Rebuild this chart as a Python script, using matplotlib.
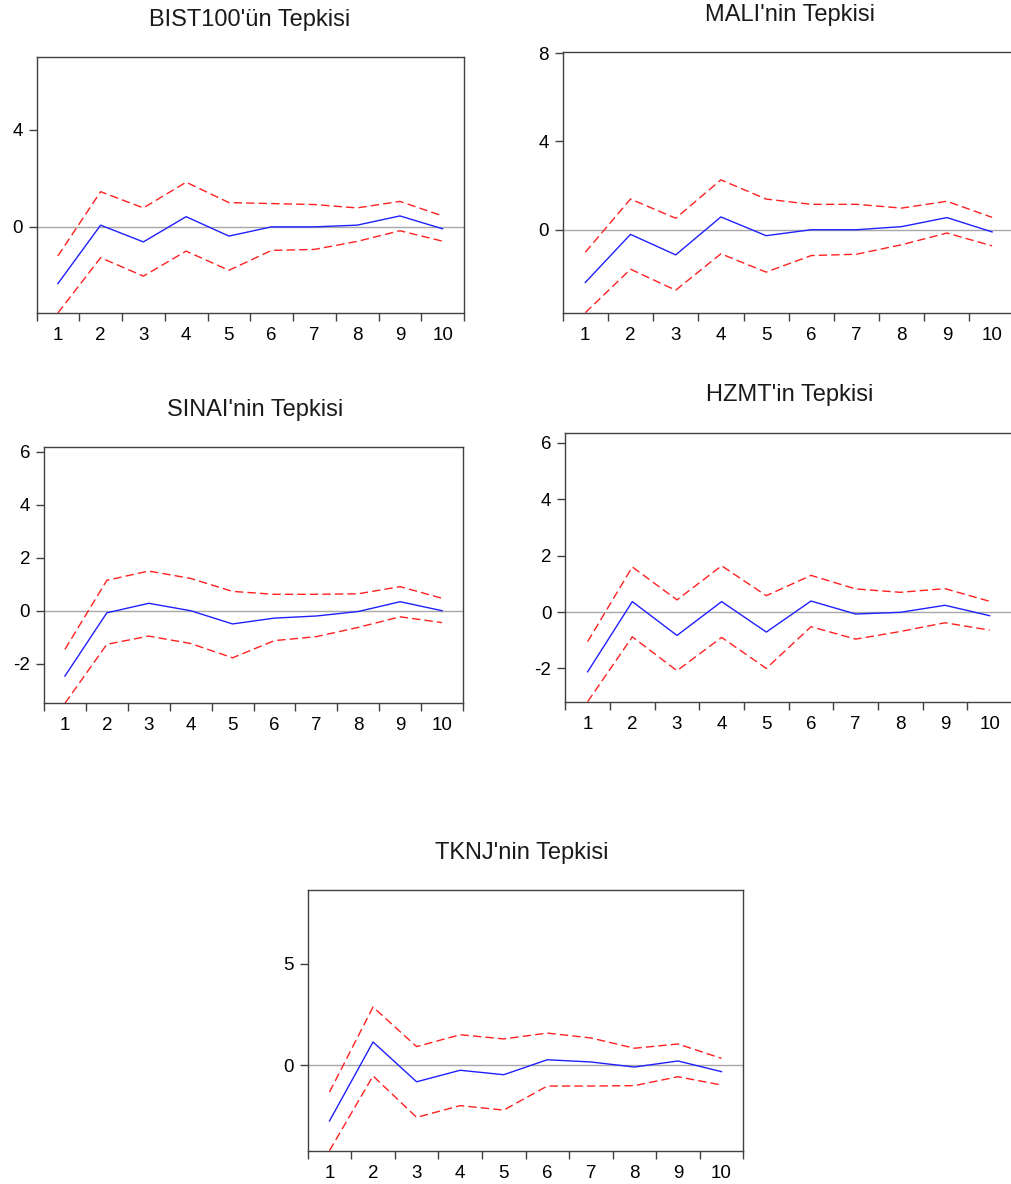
import numpy as np
import matplotlib
matplotlib.use('Agg')
import matplotlib.pyplot as plt
from matplotlib.ticker import FixedLocator, NullFormatter

plt.rcParams['font.family'] = ['Liberation Sans', 'DejaVu Sans']
plt.rcParams['axes.unicode_minus'] = False

periods = list(range(1, 11))

# impulse responses: response, upper band, lower band
bistResp = [-2.34, 0.07, -0.62, 0.42, -0.38, 0.0, 0.0, 0.07, 0.45, -0.08]
bistUpper = [-1.20, 1.45, 0.78, 1.84, 1.00, 0.96, 0.92, 0.78, 1.05, 0.45]
bistLower = [-3.55, -1.27, -2.03, -1.00, -1.79, -0.97, -0.93, -0.60, -0.16, -0.59]

maliResp = [-2.39, -0.21, -1.14, 0.58, -0.27, 0.0, 0.0, 0.14, 0.55, -0.10]
maliUpper = [-1.02, 1.39, 0.52, 2.26, 1.39, 1.15, 1.15, 0.98, 1.29, 0.56]
maliLower = [-3.76, -1.79, -2.74, -1.09, -1.92, -1.17, -1.11, -0.68, -0.15, -0.73]

sinaiResp = [-2.47, -0.08, 0.28, 0.0, -0.50, -0.28, -0.20, -0.03, 0.34, 0.0]
sinaiUpper = [-1.46, 1.15, 1.50, 1.22, 0.73, 0.62, 0.62, 0.64, 0.91, 0.47]
sinaiLower = [-3.50, -1.27, -0.96, -1.24, -1.78, -1.13, -0.98, -0.63, -0.23, -0.45]

hzmtResp = [-2.12, 0.37, -0.83, 0.37, -0.71, 0.39, -0.07, -0.01, 0.24, -0.13]
hzmtUpper = [-1.05, 1.60, 0.43, 1.64, 0.58, 1.30, 0.82, 0.70, 0.83, 0.38]
hzmtLower = [-3.18, -0.88, -2.08, -0.90, -2.00, -0.52, -0.96, -0.69, -0.38, -0.64]

tknjResp = [-2.77, 1.14, -0.83, -0.26, -0.48, 0.26, 0.15, -0.10, 0.20, -0.33]
tknjUpper = [-1.34, 2.87, 0.91, 1.50, 1.29, 1.58, 1.34, 0.83, 1.04, 0.33]
tknjLower = [-4.24, -0.54, -2.59, -2.01, -2.23, -1.04, -1.04, -1.02, -0.58, -0.99]

titles = ["BIST100'ün Tepkisi", "MALI'nin Tepkisi", "SINAI'nin Tepkisi",
          "HZMT'in Tepkisi", "TKNJ'nin Tepkisi"]
yTicks = [[0, 4], [0, 4, 8], [-2, 0, 2, 4, 6], [-2, 0, 2, 4, 6], [0, 5]]
yLimits = [(-3.55, 7.0), (-3.76, 8.04), (-3.5, 6.2), (-3.18, 6.34), (-4.24, 8.66)]

W, H = 1011, 1184

# pixel boxes: left, top, right, bottom ; title centre x, y
boxes = [(36.5, 57, 464, 313), (562.7, 52.3, 1014.7, 312.7),
         (44, 446.7, 463, 703.3), (565.3, 433.3, 1012, 701.7),
         (307.7, 890, 743.3, 1150.7)]
titlePos = [(250, 20), (790, 15), (255, 410), (790, 395), (522, 853)]

spineColor = '#404040'

def makeAxes(fig, box):
    l, t, r, b = box
    return fig.add_axes([l / W, 1 - b / H, (r - l) / W, (b - t) / H])

def drawPanel(ax, resp, upper, lower, ticks, ylim):
    ax.axhline(0, color='#a8a8a8', lw=1, zorder=1)
    ax.plot(periods, upper, color='#ff2020', lw=1, dashes=(6, 3), zorder=2)
    ax.plot(periods, lower, color='#ff2020', lw=1, dashes=(6, 3), zorder=2)
    ax.plot(periods, resp, color='#2020ff', lw=1, zorder=3)
    ax.set_xlim(0.5, 10.5)
    ax.set_ylim(*ylim)
    ax.set_yticks(ticks)
    ax.xaxis.set_major_locator(FixedLocator(np.arange(0.5, 11, 1)))
    ax.xaxis.set_major_formatter(NullFormatter())
    ax.xaxis.set_minor_locator(FixedLocator(periods))
    ax.set_xticklabels([str(p) for p in periods], minor=True)
    ax.tick_params(axis='x', which='major', direction='out', length=6,
                   width=1, color=spineColor)
    ax.tick_params(axis='x', which='minor', length=0, pad=10, labelsize=13.5)
    ax.tick_params(axis='y', direction='out', length=6, width=1,
                   color=spineColor, pad=4, labelsize=13.5)
    for s in ax.spines.values():
        s.set_color(spineColor)
        s.set_linewidth(1)

fig = plt.figure(figsize=(W / 100, H / 100), dpi=100)
series = [(bistResp, bistUpper, bistLower), (maliResp, maliUpper, maliLower),
          (sinaiResp, sinaiUpper, sinaiLower), (hzmtResp, hzmtUpper, hzmtLower),
          (tknjResp, tknjUpper, tknjLower)]

for i in range(5):
    ax = makeAxes(fig, boxes[i])
    resp, upper, lower = series[i]
    drawPanel(ax, resp, upper, lower, yTicks[i], yLimits[i])
    tx, ty = titlePos[i]
    fig.text(tx / W, 1 - ty / H, titles[i], ha='center', va='center',
             fontsize=17, color='#1a1a1a')

fig.savefig('out.png', dpi=100)
